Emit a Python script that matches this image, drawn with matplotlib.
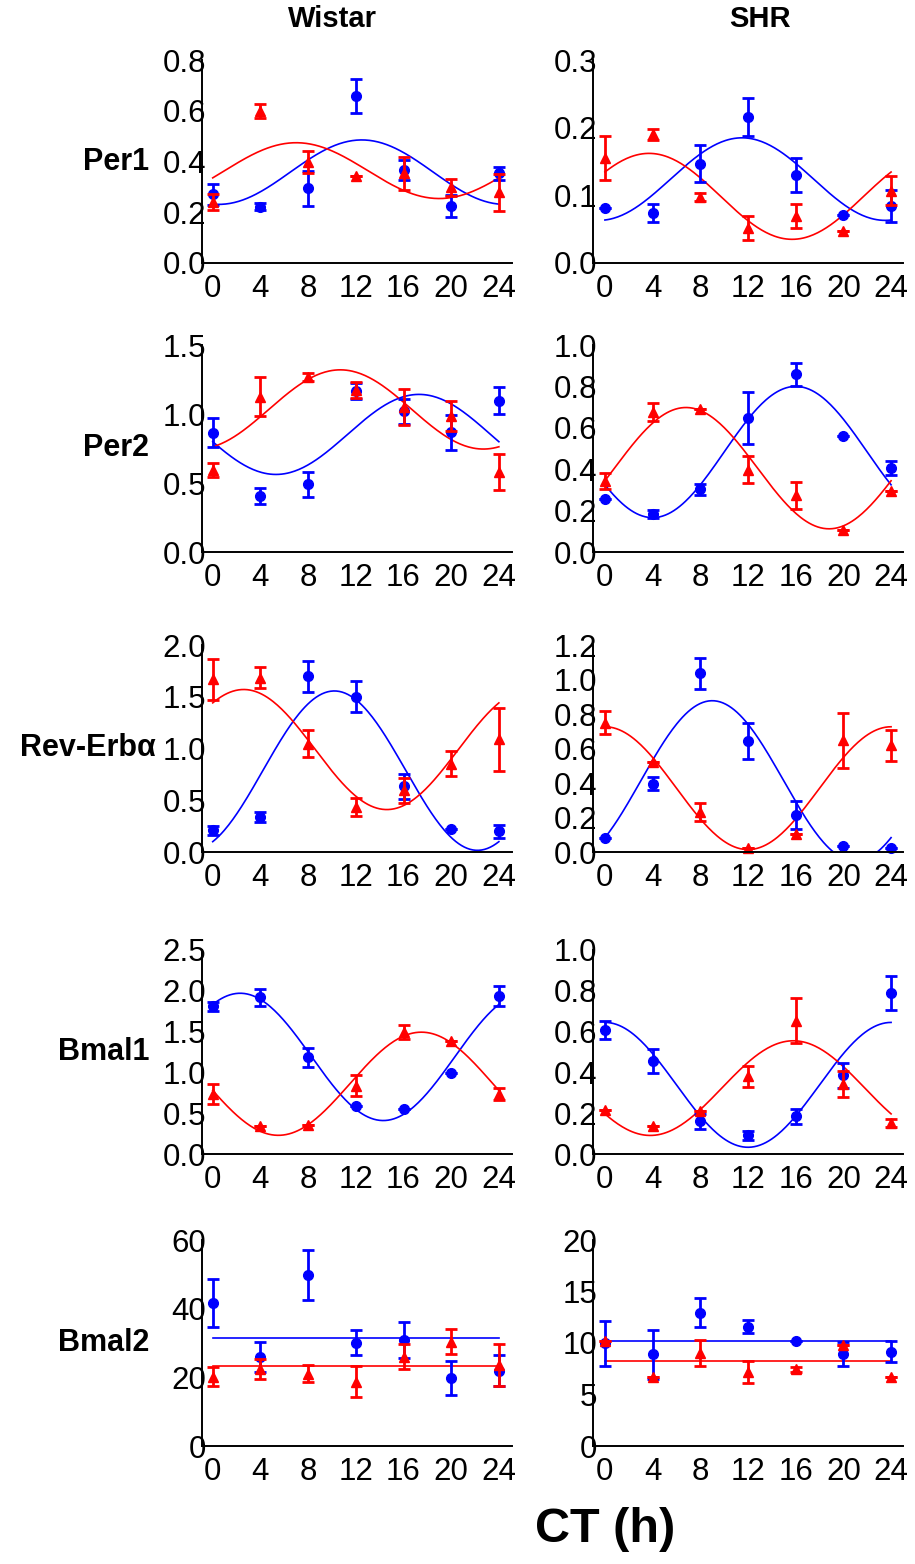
import matplotlib
matplotlib.use('Agg')
import matplotlib.pyplot as plt
import numpy as np

plt.rcParams['font.family'] = ['Liberation Sans', 'DejaVu Sans']
plt.rcParams['font.size'] = 22

BLUE = '#0000ff'
RED = '#ff0000'

ct = [0, 4, 8, 12, 16, 20, 24]
genes = ['Per1', 'Per2', 'Rev-Erbα', 'Bmal1', 'Bmal2']
strains = ['Wistar', 'SHR']

# fit = (mesor, amplitude, acrophase in h)
# Per1
per1_wis_circ = [0.27, 0.222, 0.294, 0.657, 0.366, 0.225, 0.353]
per1_wis_circ_sem = [0.04, 0.015, 0.068, 0.067, 0.04, 0.042, 0.027]
per1_wis_tri = [0.24, 0.598, 0.397, 0.344, 0.353, 0.298, 0.278]
per1_wis_tri_sem = [0.03, 0.028, 0.043, 0.0, 0.065, 0.033, 0.073]
per1_wis_circ_fit = (0.358, 0.127, 12.5)
per1_wis_tri_fit = (0.364, 0.11, 7.0)

per1_shr_circ = [0.082, 0.074, 0.147, 0.216, 0.130, 0.071, 0.084]
per1_shr_circ_sem = [0.0, 0.013, 0.027, 0.028, 0.025, 0.0, 0.024]
per1_shr_tri = [0.155, 0.19, 0.097, 0.052, 0.069, 0.047, 0.107]
per1_shr_tri_sem = [0.033, 0.008, 0.006, 0.018, 0.018, 0.0, 0.021]
per1_shr_circ_fit = (0.124, 0.061, 11.5)
per1_shr_tri_fit = (0.0985, 0.0635, 3.7)

# Per2
per2_wis_circ = [0.864, 0.407, 0.49, 1.167, 1.02, 0.867, 1.097]
per2_wis_circ_sem = [0.105, 0.06, 0.09, 0.06, 0.09, 0.125, 0.1]
per2_wis_tri = [0.593, 1.126, 1.27, 1.174, 1.053, 0.985, 0.58]
per2_wis_tri_sem = [0.05, 0.14, 0.03, 0.06, 0.13, 0.11, 0.13]
per2_wis_circ_fit = (0.852, 0.29, 17.3)
per2_wis_tri_fit = (1.033, 0.287, 10.7)

per2_shr_circ = [0.255, 0.182, 0.302, 0.648, 0.858, 0.561, 0.406]
per2_shr_circ_sem = [0.0, 0.02, 0.025, 0.125, 0.056, 0.0, 0.035]
per2_shr_tri = [0.344, 0.677, 0.689, 0.398, 0.274, 0.108, 0.295]
per2_shr_tri_sem = [0.04, 0.045, 0.0, 0.067, 0.065, 0.0, 0.0]
per2_shr_circ_fit = (0.483, 0.317, 16.0)
per2_shr_tri_fit = (0.405, 0.293, 6.8)

# Rev-Erb alpha
rev_wis_circ = [0.21, 0.339, 1.70, 1.50, 0.635, 0.226, 0.2]
rev_wis_circ_sem = [0.045, 0.045, 0.15, 0.15, 0.12, 0.0, 0.06]
rev_wis_tri = [1.668, 1.684, 1.048, 0.435, 0.597, 0.855, 1.087]
rev_wis_tri_sem = [0.2, 0.1, 0.13, 0.09, 0.12, 0.12, 0.3]
rev_wis_circ_fit = (0.786, 0.77, 10.2)
rev_wis_tri_fit = (0.99, 0.58, 2.6)

rev_shr_circ = [0.083, 0.397, 1.035, 0.644, 0.213, 0.033, 0.023]
rev_shr_circ_sem = [0.0, 0.035, 0.088, 0.104, 0.08, 0.0, 0.0]
rev_shr_tri = [0.749, 0.519, 0.232, 0.025, 0.103, 0.648, 0.619]
rev_shr_tri_sem = [0.066, 0.0, 0.05, 0.0, 0.0, 0.16, 0.09]
rev_shr_circ_fit = (0.412, 0.465, 9.0)
rev_shr_tri_fit = (0.37, 0.356, 0.0)

# Bmal1
bmal1_wis_circ = [1.808, 1.918, 1.184, 0.584, 0.551, 0.992, 1.939]
bmal1_wis_circ_sem = [0.06, 0.1, 0.12, 0.0, 0.0, 0.0, 0.12]
bmal1_wis_tri = [0.735, 0.339, 0.359, 0.837, 1.494, 1.38, 0.735]
bmal1_wis_tri_sem = [0.12, 0.0, 0.0, 0.13, 0.09, 0.0, 0.07]
bmal1_wis_circ_fit = (1.19, 0.78, 2.3)
bmal1_wis_tri_fit = (0.861, 0.632, 17.5)

bmal1_shr_circ = [0.608, 0.457, 0.16, 0.091, 0.184, 0.385, 0.788]
bmal1_shr_circ_sem = [0.045, 0.06, 0.038, 0.02, 0.035, 0.06, 0.084]
bmal1_shr_tri = [0.217, 0.139, 0.212, 0.38, 0.654, 0.343, 0.152]
bmal1_shr_tri_sem = [0.0, 0.0, 0.0, 0.05, 0.11, 0.065, 0.02]
bmal1_shr_circ_fit = (0.339, 0.306, 0.0)
bmal1_shr_tri_fit = (0.323, 0.232, 15.8)

# Bmal2 (no rhythm -> flat line at mesor)
bmal2_wis_circ = [41.7, 26.0, 49.8, 30.1, 30.9, 19.9, 21.9]
bmal2_wis_circ_sem = [6.9, 4.4, 7.3, 3.6, 5.3, 5.0, 4.5]
bmal2_wis_tri = [20.2, 22.3, 21.0, 18.7, 26.0, 30.4, 23.6]
bmal2_wis_tri_sem = [2.7, 2.9, 2.5, 4.5, 3.6, 3.7, 6.0]
bmal2_wis_circ_fit = (31.4, 0.0, 0.0)
bmal2_wis_tri_fit = (23.4, 0.0, 0.0)

bmal2_shr_circ = [9.97, 8.9, 12.94, 11.6, 10.2, 8.93, 9.16]
bmal2_shr_circ_sem = [2.2, 2.4, 1.4, 0.65, 0.0, 1.2, 1.05]
bmal2_shr_tri = [10.2, 6.7, 9.0, 7.2, 7.44, 9.8, 6.67]
bmal2_shr_tri_sem = [0.0, 0.0, 1.25, 1.05, 0.25, 0.0, 0.0]
bmal2_shr_circ_fit = (10.2, 0.0, 0.0)
bmal2_shr_tri_fit = (8.28, 0.0, 0.0)

# y axis: (max, step, format) per row and strain
yaxes_wis = [(0.8, 0.2, '%.1f'), (1.5, 0.5, '%.1f'), (2.0, 0.5, '%.1f'), (2.5, 0.5, '%.1f'), (60, 20, '%d')]
yaxes_shr = [(0.3, 0.1, '%.1f'), (1.0, 0.2, '%.1f'), (1.2, 0.2, '%.1f'), (1.0, 0.2, '%.1f'), (20, 5, '%d')]

panels_wis = [
    (per1_wis_circ, per1_wis_circ_sem, per1_wis_tri, per1_wis_tri_sem, per1_wis_circ_fit, per1_wis_tri_fit),
    (per2_wis_circ, per2_wis_circ_sem, per2_wis_tri, per2_wis_tri_sem, per2_wis_circ_fit, per2_wis_tri_fit),
    (rev_wis_circ, rev_wis_circ_sem, rev_wis_tri, rev_wis_tri_sem, rev_wis_circ_fit, rev_wis_tri_fit),
    (bmal1_wis_circ, bmal1_wis_circ_sem, bmal1_wis_tri, bmal1_wis_tri_sem, bmal1_wis_circ_fit, bmal1_wis_tri_fit),
    (bmal2_wis_circ, bmal2_wis_circ_sem, bmal2_wis_tri, bmal2_wis_tri_sem, bmal2_wis_circ_fit, bmal2_wis_tri_fit),
]
panels_shr = [
    (per1_shr_circ, per1_shr_circ_sem, per1_shr_tri, per1_shr_tri_sem, per1_shr_circ_fit, per1_shr_tri_fit),
    (per2_shr_circ, per2_shr_circ_sem, per2_shr_tri, per2_shr_tri_sem, per2_shr_circ_fit, per2_shr_tri_fit),
    (rev_shr_circ, rev_shr_circ_sem, rev_shr_tri, rev_shr_tri_sem, rev_shr_circ_fit, rev_shr_tri_fit),
    (bmal1_shr_circ, bmal1_shr_circ_sem, bmal1_shr_tri, bmal1_shr_tri_sem, bmal1_shr_circ_fit, bmal1_shr_tri_fit),
    (bmal2_shr_circ, bmal2_shr_circ_sem, bmal2_shr_tri, bmal2_shr_tri_sem, bmal2_shr_circ_fit, bmal2_shr_tri_fit),
]

W, H = 915, 1564
fig = plt.figure(figsize=(W / 100, H / 100), dpi=100)

# pixel layout (top of y axis, zero line)
row_px = [(60, 263), (345, 552), (645, 852), (950, 1154), (1240, 1446)]
col_px = [202, 593]
col_xlim = [(-0.9, 25.1), (-1.0, 25.0)]
AX_W = 310
label_right = [149, 149, 156, 149, 149]


def cosinor(params, t):
    mesor, amp, phase = params
    return mesor + amp * np.cos(2 * np.pi * (t - phase) / 24)


def draw_panel(ax, data, yspec, xlim):
    circ, circ_sem, tri, tri_sem, circ_fit, tri_fit = data
    ymax, ystep, fmt = yspec
    t = np.linspace(0, 24, 200)

    # fitted curves (clipped at zero like the original software)
    ax.plot(t, np.clip(cosinor(circ_fit, t), 0, None), color=BLUE, lw=1.2, clip_on=False, zorder=2)
    ax.plot(t, np.clip(cosinor(tri_fit, t), 0, None), color=RED, lw=1.2, clip_on=False, zorder=2)

    ax.errorbar(ct, circ, yerr=circ_sem, fmt='o', color=BLUE, ms=7, elinewidth=2,
                capsize=4, capthick=2, clip_on=False, zorder=3)
    ax.errorbar(ct, tri, yerr=tri_sem, fmt='^', color=RED, ms=7.5, elinewidth=2,
                capsize=4, capthick=2, clip_on=False, zorder=4)

    ax.set_xlim(*xlim)
    ax.set_ylim(0, ymax)
    ax.set_xticks(ct)
    yt = np.arange(0, ymax + ystep / 2, ystep)
    ax.set_yticks(yt)
    ax.set_yticklabels([fmt % v for v in yt])

    for s in ['top', 'right']:
        ax.spines[s].set_visible(False)
    for s in ['left', 'bottom']:
        ax.spines[s].set_linewidth(1.4)
        ax.spines[s].set_zorder(5)
    ax.tick_params(axis='y', length=0, pad=-3, labelsize=22.5)
    ax.tick_params(axis='x', length=0, pad=8, labelsize=22.5)
    ax.patch.set_alpha(0)


for r in range(5):
    top, bottom = row_px[r]
    for c in range(2):
        left = col_px[c]
        ax = fig.add_axes([left / W, 1 - bottom / H, AX_W / W, (bottom - top) / H])
        data = panels_wis[r] if c == 0 else panels_shr[r]
        yspec = yaxes_wis[r] if c == 0 else yaxes_shr[r]
        draw_panel(ax, data, yspec, col_xlim[c])

    # gene label on the left
    ymid = (top + bottom) / 2
    fig.text(label_right[r] / W, 1 - ymid / H, genes[r], ha='right', va='center',
             fontsize=22, fontweight='bold', zorder=0)

# column titles
fig.text(332 / W, 1 - 19 / H, strains[0], ha='center', va='center', fontsize=21, fontweight='bold')
fig.text(760 / W, 1 - 19 / H, strains[1], ha='center', va='center', fontsize=21, fontweight='bold')

# shared x label
fig.text(605 / W, 1 - 1530 / H, 'CT (h)', ha='center', va='center', fontsize=35, fontweight='bold')

fig.savefig('out.png', dpi=100)
